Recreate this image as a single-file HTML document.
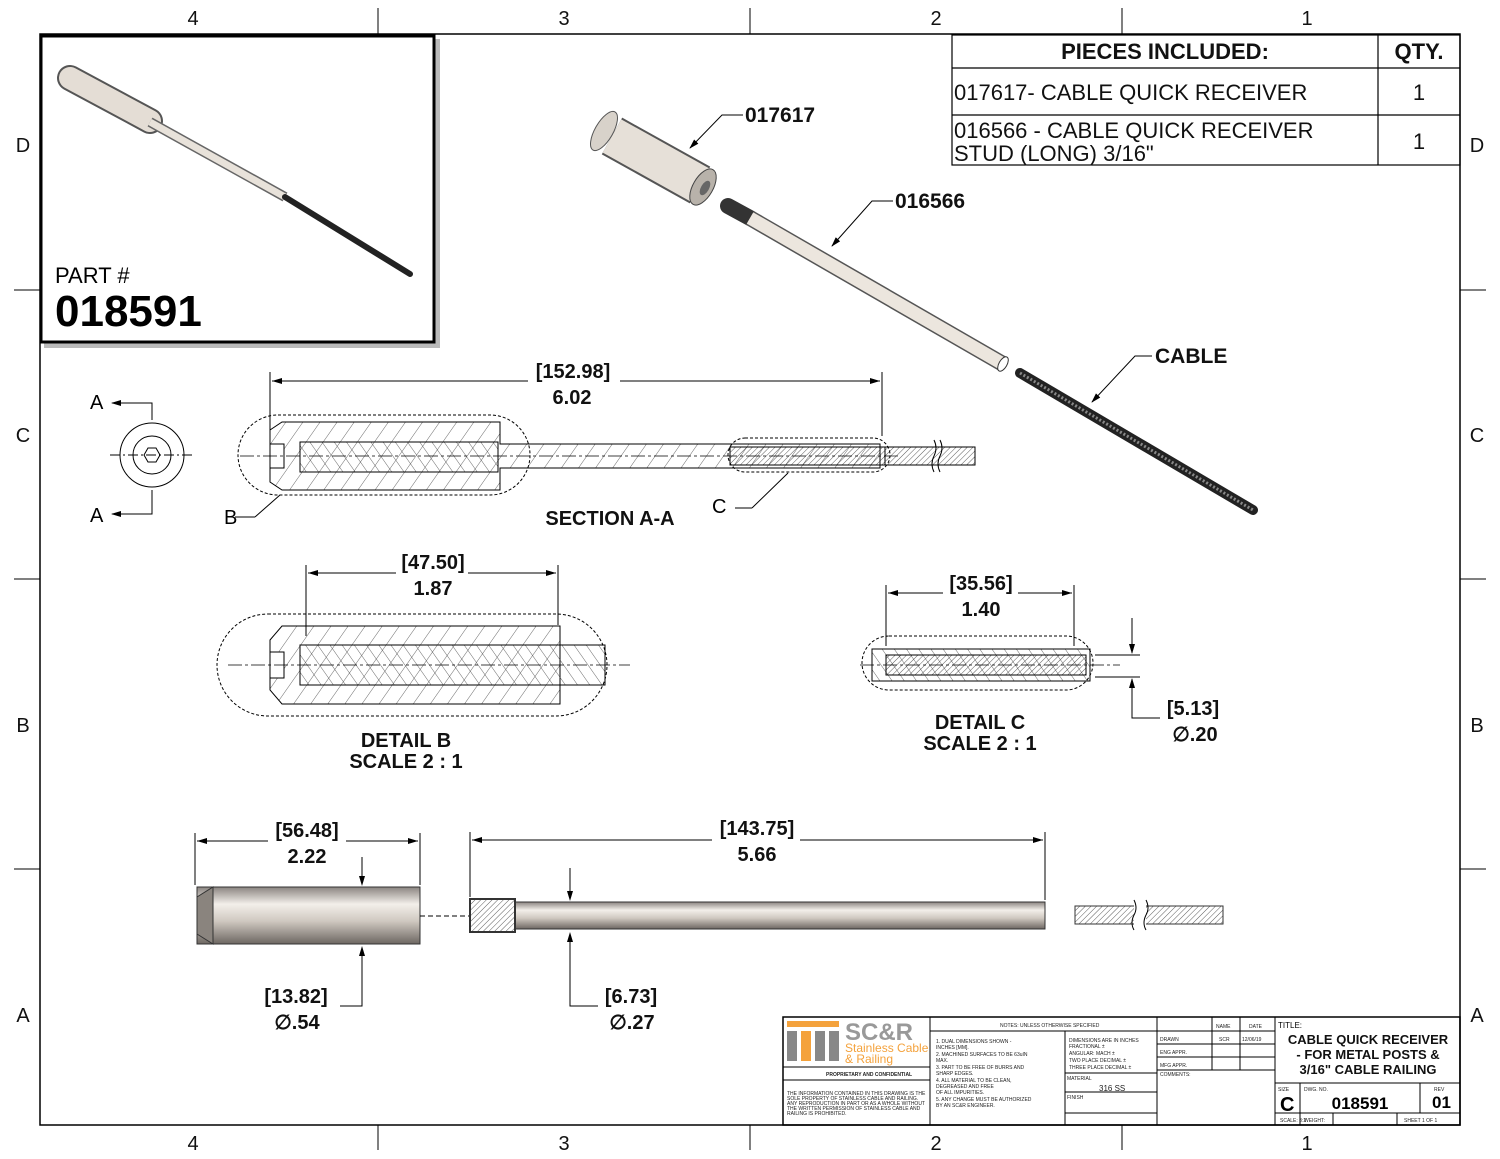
<!DOCTYPE html>
<html><head><meta charset="utf-8"><style>
html,body{margin:0;padding:0;background:#fff}
svg{display:block}
text{font-family:"Liberation Sans",sans-serif}
</style></head><body>
<svg width="1500" height="1159" viewBox="0 0 1500 1159" xmlns="http://www.w3.org/2000/svg">
<defs>
<pattern id="h1" width="14" height="14" patternUnits="userSpaceOnUse" patternTransform="rotate(35)"><line x1="0" y1="0" x2="0" y2="14" stroke="#444" stroke-width="0.8"/></pattern>
<pattern id="h2" width="4" height="4" patternUnits="userSpaceOnUse" patternTransform="rotate(45)"><line x1="0" y1="0" x2="0" y2="4" stroke="#333" stroke-width="0.8"/></pattern>
<pattern id="h3" width="10" height="10" patternUnits="userSpaceOnUse" patternTransform="rotate(-35)"><line x1="0" y1="0" x2="0" y2="10" stroke="#444" stroke-width="0.8"/></pattern>
<linearGradient id="gv" x1="0" y1="0" x2="0" y2="1"><stop offset="0" stop-color="#8a8480"/><stop offset="0.3" stop-color="#f3efea"/><stop offset="0.6" stop-color="#cfc8c0"/><stop offset="1" stop-color="#6d6762"/></linearGradient>
<marker id="ar" markerWidth="10" markerHeight="8" refX="9" refY="4" orient="auto" markerUnits="userSpaceOnUse"><path d="M0,1 L10,4 L0,7z" fill="#000"/></marker>
</defs>
<!-- frame -->
<rect x="40" y="34" width="1420" height="1091" fill="none" stroke="#000" stroke-width="1.5"/>
<g stroke="#000" stroke-width="1">
<line x1="378" y1="8" x2="378" y2="34"/><line x1="750" y1="8" x2="750" y2="34"/><line x1="1122" y1="8" x2="1122" y2="34"/>
<line x1="378" y1="1125" x2="378" y2="1150"/><line x1="750" y1="1125" x2="750" y2="1150"/><line x1="1122" y1="1125" x2="1122" y2="1150"/>
<line x1="14" y1="290" x2="40" y2="290"/><line x1="14" y1="579" x2="40" y2="579"/><line x1="14" y1="869" x2="40" y2="869"/>
<line x1="1460" y1="290" x2="1486" y2="290"/><line x1="1460" y1="579" x2="1486" y2="579"/><line x1="1460" y1="869" x2="1486" y2="869"/>
</g>
<g font-size="20" text-anchor="middle" fill="#111">
<text x="193" y="25">4</text><text x="564" y="25">3</text><text x="936" y="25">2</text><text x="1307" y="25">1</text>
<text x="193" y="1150">4</text><text x="564" y="1150">3</text><text x="936" y="1150">2</text><text x="1307" y="1150">1</text>
<text x="23" y="152">D</text><text x="23" y="442">C</text><text x="23" y="732">B</text><text x="23" y="1022">A</text>
<text x="1477" y="152">D</text><text x="1477" y="442">C</text><text x="1477" y="732">B</text><text x="1477" y="1022">A</text>
</g>
<!-- inset -->
<rect x="44" y="39" width="396" height="309" fill="#bbb"/>
<rect x="41" y="36" width="393" height="306" fill="#fff" stroke="#000" stroke-width="3"/>
<line x1="70" y1="78" x2="150" y2="121" stroke="#555" stroke-width="26" stroke-linecap="round"/>
<line x1="70" y1="78" x2="150" y2="121" stroke="#e4ddd5" stroke-width="22" stroke-linecap="round"/>
<line x1="150" y1="122" x2="285" y2="197" stroke="#666" stroke-width="10"/>
<line x1="150" y1="122" x2="285" y2="197" stroke="#e8e2da" stroke-width="7"/>
<line x1="285" y1="197" x2="410" y2="274" stroke="#222" stroke-width="6" stroke-linecap="round"/>
<text x="55" y="283" font-size="22">PART #</text>
<text x="55" y="326" font-size="44" font-weight="bold">018591</text>
<!-- pieces table -->
<g stroke="#000" stroke-width="1.2" fill="none">
<rect x="952" y="35" width="508" height="130"/>
<line x1="952" y1="68" x2="1460" y2="68"/><line x1="952" y1="115" x2="1460" y2="115"/>
<line x1="1378" y1="35" x2="1378" y2="165"/>
</g>
<g font-size="22" fill="#111">
<text x="1165" y="59" text-anchor="middle" font-weight="bold">PIECES INCLUDED:</text>
<text x="1419" y="59" text-anchor="middle" font-weight="bold">QTY.</text>
<text x="954" y="100">017617- CABLE QUICK RECEIVER</text>
<text x="1419" y="100" text-anchor="middle">1</text>
<text x="954" y="138">016566 - CABLE QUICK RECEIVER</text>
<text x="954" y="161">STUD (LONG) 3/16"</text>
<text x="1419" y="149" text-anchor="middle">1</text>
</g>
<!-- iso exploded -->
<line x1="612" y1="136" x2="700" y2="185" stroke="#555" stroke-width="42"/>
<line x1="612" y1="136" x2="700" y2="185" stroke="#e6e0d8" stroke-width="38"/>
<ellipse cx="604" cy="131" rx="9" ry="22" transform="rotate(30 604 131)" fill="#d8d2ca" stroke="#555"/>
<ellipse cx="703" cy="187" rx="10" ry="20" transform="rotate(30 703 187)" fill="#b8b2aa" stroke="#444"/>
<ellipse cx="705" cy="188" rx="4" ry="8" transform="rotate(30 705 188)" fill="#666"/>
<line x1="728" y1="206" x2="750" y2="218" stroke="#333" stroke-width="16" stroke-linecap="round"/>
<line x1="728" y1="206" x2="750" y2="218" stroke="url(#h2)" stroke-width="12"/>
<line x1="750" y1="218" x2="1003" y2="364" stroke="#555" stroke-width="16"/>
<line x1="750" y1="218" x2="1003" y2="364" stroke="#ece6de" stroke-width="13"/>
<ellipse cx="1003" cy="364" rx="4" ry="8" transform="rotate(30 1003 364)" fill="#fff" stroke="#333"/>
<line x1="1020" y1="373" x2="1253" y2="510" stroke="#222" stroke-width="10" stroke-linecap="round"/>
<line x1="1020" y1="373" x2="1253" y2="510" stroke="#888" stroke-width="3" stroke-dasharray="2 2"/>
<g stroke="#000" stroke-width="1" fill="none">
<polyline points="743,115 722,115 690,148" marker-end="url(#ar)"/>
<polyline points="893,201 872,201 832,246" marker-end="url(#ar)"/>
<polyline points="1152,356 1135,356 1092,402" marker-end="url(#ar)"/>
</g>
<g font-size="21" font-weight="bold" fill="#111">
<text x="745" y="122">017617</text><text x="895" y="208">016566</text><text x="1155" y="363">CABLE</text>
</g>
<!-- Section A-A side view -->
<g stroke="#000" stroke-width="1" fill="none">
<circle cx="152" cy="455" r="32"/><circle cx="152" cy="455" r="19"/>
<polygon points="160,455 156,462 148,462 144,455 148,448 156,448"/>
<line x1="110" y1="455" x2="192" y2="455" stroke-dasharray="10 3 2 3"/>
<polyline points="152,420 152,403 112,403" marker-end="url(#ar)"/>
<polyline points="152,490 152,514 112,514" marker-end="url(#ar)"/>
</g>
<text x="90" y="409" font-size="20">A</text><text x="90" y="522" font-size="20">A</text>
<!-- section body -->
<g stroke="#000" stroke-width="1">
<path d="M270,430 L282,422 L500,422 L500,444 L880,444 L880,468 L500,468 L500,490 L282,490 L270,482 Z" fill="url(#h1)"/>
<rect x="300" y="442" width="198" height="30" fill="url(#h3)"/>
<rect x="730" y="447" width="155" height="18" fill="url(#h2)"/>
<rect x="885" y="447" width="90" height="18" fill="url(#h2)"/>
<rect x="270" y="444" width="14" height="24" fill="#fff"/>
</g>
<line x1="240" y1="456" x2="900" y2="456" stroke="#000" stroke-width="0.7" stroke-dasharray="14 3 3 3"/>
<rect x="238" y="415" width="292" height="80" rx="40" fill="none" stroke="#000" stroke-dasharray="3 2"/>
<rect x="728" y="438" width="162" height="34" rx="17" fill="none" stroke="#000" stroke-dasharray="3 2"/>
<g stroke="#000" stroke-width="1" fill="none">
<path d="M934,440 q4,8 0,16 q-4,8 0,16 M940,440 q4,8 0,16 q-4,8 0,16" stroke="#000"/>
<line x1="270" y1="440" x2="270" y2="372"/><line x1="882" y1="436" x2="882" y2="372"/>
<line x1="272" y1="381" x2="528" y2="381"/><line x1="620" y1="381" x2="880" y2="381"/>
<polyline points="255,517 235,517" /><line x1="255" y1="517" x2="280" y2="495"/>
<line x1="735" y1="508" x2="752" y2="508"/><line x1="752" y1="508" x2="788" y2="473"/>
</g>
<path d="M272,381 l10,-3 v6z M880,381 l-10,-3 v6z" fill="#000"/>
<g font-size="20" font-weight="bold" fill="#111" text-anchor="middle">
<text x="573" y="378">[152.98]</text><text x="572" y="404">6.02</text>
<text x="610" y="525">SECTION A-A</text>
</g>
<text x="224" y="524" font-size="20">B</text><text x="712" y="513" font-size="20">C</text>
<!-- Detail B -->
<g stroke="#000" stroke-width="1">
<path d="M270,640 L282,626 L560,626 L560,704 L282,704 L270,690 Z" fill="url(#h1)"/>
<rect x="300" y="645" width="305" height="40" fill="url(#h3)"/>
<rect x="270" y="652" width="14" height="26" fill="#fff"/>
</g>
<line x1="228" y1="665" x2="630" y2="665" stroke="#000" stroke-width="0.7" stroke-dasharray="14 3 3 3"/>
<rect x="217" y="614" width="390" height="102" rx="51" fill="none" stroke="#000" stroke-dasharray="3 2"/>
<g stroke="#000" fill="none"><line x1="306" y1="636" x2="306" y2="565"/><line x1="558" y1="625" x2="558" y2="565"/>
<line x1="308" y1="573" x2="396" y2="573"/><line x1="468" y1="573" x2="556" y2="573"/></g>
<path d="M308,573 l10,-3 v6z M556,573 l-10,-3 v6z" fill="#000"/>
<g font-size="20" font-weight="bold" fill="#111" text-anchor="middle">
<text x="433" y="569">[47.50]</text><text x="433" y="595">1.87</text>
<text x="406" y="747">DETAIL B</text><text x="406" y="768">SCALE 2 : 1</text>
</g>
<!-- Detail C -->
<g stroke="#000" stroke-width="1">
<rect x="872" y="649" width="218" height="32" fill="url(#h3)"/>
<rect x="886" y="655" width="200" height="20" fill="url(#h2)"/>
</g>
<line x1="860" y1="665" x2="1120" y2="665" stroke="#000" stroke-width="0.7" stroke-dasharray="14 3 3 3"/>
<rect x="862" y="636" width="231" height="54" rx="27" fill="none" stroke="#000" stroke-dasharray="3 2"/>
<g stroke="#000" fill="none"><line x1="886" y1="646" x2="886" y2="585"/><line x1="1074" y1="646" x2="1074" y2="585"/>
<line x1="888" y1="593" x2="943" y2="593"/><line x1="1018" y1="593" x2="1072" y2="593"/>
<line x1="1095" y1="655" x2="1140" y2="655"/><line x1="1095" y1="677" x2="1140" y2="677"/>
<line x1="1132" y1="618" x2="1132" y2="653"/><polyline points="1132,679 1132,718 1160,718"/></g>
<path d="M888,593 l10,-3 v6z M1072,593 l-10,-3 v6z M1132,654 l-3,-10 h6z M1132,678 l-3,10 h6z" fill="#000"/>
<g font-size="20" font-weight="bold" fill="#111" text-anchor="middle">
<text x="981" y="590">[35.56]</text><text x="981" y="616">1.40</text>
<text x="980" y="729">DETAIL C</text><text x="980" y="750">SCALE 2 : 1</text>
<text x="1193" y="715">[5.13]</text><text x="1195" y="741">∅.20</text>
</g>
<!-- bottom views -->
<rect x="197" y="887" width="223" height="57" fill="url(#gv)" stroke="#333"/>
<path d="M213,887 L197,897 L197,934 L213,944 Z" fill="#8a847e" stroke="#333"/>
<line x1="420" y1="916" x2="470" y2="916" stroke="#000" stroke-dasharray="5 3"/>
<rect x="515" y="902" width="530" height="27" fill="url(#gv)" stroke="#333"/>
<rect x="470" y="899" width="45" height="33" fill="url(#h2)" stroke="#333" stroke-width="2"/>
<rect x="1075" y="906" width="148" height="18" fill="url(#h2)" stroke="#333"/>
<rect x="1134" y="900" width="12" height="30" fill="#fff"/>
<path d="M1134,900 q4,8 0,15 q-4,8 0,15 M1146,900 q4,8 0,15 q-4,8 0,15" stroke="#000" fill="none"/>
<g stroke="#000" fill="none">
<line x1="195" y1="885" x2="195" y2="833"/><line x1="420" y1="885" x2="420" y2="833"/>
<line x1="197" y1="841" x2="268" y2="841"/><line x1="346" y1="841" x2="418" y2="841"/>
<line x1="362" y1="857" x2="362" y2="883"/><polyline points="362,950 362,1006 340,1006"/>
<line x1="470" y1="897" x2="470" y2="832"/><line x1="1045" y1="900" x2="1045" y2="832"/>
<line x1="472" y1="840" x2="712" y2="840"/><line x1="800" y1="840" x2="1043" y2="840"/>
<line x1="570" y1="868" x2="570" y2="898"/><polyline points="570,935 570,1006 598,1006"/>
</g>
<path d="M197,841 l10,-3 v6z M418,841 l-10,-3 v6z M472,840 l10,-3 v6z M1043,840 l-10,-3 v6z M362,886 l-3,-10 h6z M362,946 l-3,10 h6z M570,901 l-3,-10 h6z M570,932 l-3,10 h6z" fill="#000"/>
<g font-size="20" font-weight="bold" fill="#111" text-anchor="middle">
<text x="307" y="837">[56.48]</text><text x="307" y="863">2.22</text>
<text x="757" y="835">[143.75]</text><text x="757" y="861">5.66</text>
<text x="296" y="1003">[13.82]</text><text x="297" y="1029">∅.54</text>
<text x="631" y="1003">[6.73]</text><text x="632" y="1029">∅.27</text>
</g>
<!-- title block -->
<g stroke="#000" stroke-width="1" fill="none">
<rect x="783" y="1017" width="677" height="108" stroke-width="1.5"/>
<line x1="930" y1="1017" x2="930" y2="1125"/>
<line x1="783" y1="1067" x2="930" y2="1067"/><line x1="783" y1="1080" x2="930" y2="1080"/>
<line x1="930" y1="1031" x2="1157" y2="1031"/>
<line x1="1065" y1="1031" x2="1065" y2="1125"/>
<line x1="1065" y1="1073" x2="1157" y2="1073"/><line x1="1065" y1="1092" x2="1157" y2="1092"/><line x1="1065" y1="1113" x2="1157" y2="1113"/>
<line x1="1157" y1="1017" x2="1157" y2="1125"/>
<line x1="1157" y1="1031" x2="1275" y2="1031"/><line x1="1157" y1="1044" x2="1275" y2="1044"/><line x1="1157" y1="1057" x2="1275" y2="1057"/><line x1="1157" y1="1070" x2="1275" y2="1070"/>
<line x1="1212" y1="1017" x2="1212" y2="1070"/><line x1="1240" y1="1017" x2="1240" y2="1070"/>
<line x1="1275" y1="1017" x2="1275" y2="1125"/>
<line x1="1275" y1="1083" x2="1460" y2="1083"/><line x1="1275" y1="1113" x2="1460" y2="1113"/>
<line x1="1300" y1="1083" x2="1300" y2="1125"/><line x1="1420" y1="1083" x2="1420" y2="1113"/><line x1="1333" y1="1113" x2="1333" y2="1125"/><line x1="1397" y1="1113" x2="1397" y2="1125"/>
</g>
<g fill="#f4a23c"><rect x="787" y="1021" width="52" height="6"/><rect x="787" y="1031" width="10" height="30" fill="#888"/><rect x="801" y="1031" width="10" height="30" fill="#f4a23c"/><rect x="815" y="1031" width="10" height="30" fill="#888"/><rect x="829" y="1031" width="10" height="30" fill="#888"/></g>
<text x="845" y="1040" font-size="24" font-weight="bold" fill="#999">SC&amp;R</text>
<text x="845" y="1052" font-size="12" fill="#f4a23c">Stainless Cable</text>
<text x="845" y="1063" font-size="12" fill="#f4a23c">&amp; Railing</text>
<g font-size="5" fill="#222">
<text x="826" y="1076" font-weight="bold">PROPRIETARY AND CONFIDENTIAL</text>
<text x="787" y="1095">THE INFORMATION CONTAINED IN THIS DRAWING IS THE</text>
<text x="787" y="1100">SOLE PROPERTY OF STAINLESS CABLE AND RAILING.</text>
<text x="787" y="1105">ANY REPRODUCTION IN PART OR AS A WHOLE WITHOUT</text>
<text x="787" y="1110">THE WRITTEN PERMISSION OF STAINLESS CABLE AND</text>
<text x="787" y="1115">RAILING IS PROHIBITED.</text>
<text x="1000" y="1027">NOTES:   UNLESS OTHERWISE SPECIFIED</text>
<text x="936" y="1043">1. DUAL DIMENSIONS SHOWN -</text>
<text x="936" y="1049">INCHES [MM].</text>
<text x="936" y="1056">2. MACHINED SURFACES TO BE 63uIN</text>
<text x="936" y="1062">MAX.</text>
<text x="936" y="1069">3. PART TO BE FREE OF BURRS AND</text>
<text x="936" y="1075">SHARP EDGES.</text>
<text x="936" y="1082">4. ALL MATERIAL TO BE CLEAN,</text>
<text x="936" y="1088">DEGREASED AND FREE</text>
<text x="936" y="1094">OF ALL IMPURITIES.</text>
<text x="936" y="1101">5. ANY CHANGE MUST BE AUTHORIZED</text>
<text x="936" y="1107">BY AN SC&amp;R ENGINEER.</text>
<text x="1069" y="1042">DIMENSIONS ARE IN INCHES</text>
<text x="1069" y="1048">FRACTIONAL          ±</text>
<text x="1069" y="1055">ANGULAR: MACH       ±</text>
<text x="1069" y="1062">TWO PLACE DECIMAL   ±</text>
<text x="1069" y="1069">THREE PLACE DECIMAL ±</text>
<text x="1067" y="1080">MATERIAL</text>
<text x="1067" y="1099">FINISH</text>
<text x="1160" y="1041">DRAWN</text><text x="1160" y="1054">ENG APPR.</text><text x="1160" y="1067">MFG APPR.</text><text x="1160" y="1076">COMMENTS:</text>
<text x="1216" y="1028">NAME</text><text x="1249" y="1028">DATE</text>
<text x="1219" y="1041">SCR</text><text x="1242" y="1041">12/06/19</text>
<text x="1278" y="1091">SIZE</text><text x="1304" y="1091">DWG.  NO.</text><text x="1434" y="1091">REV</text>
<text x="1280" y="1122">SCALE: 3:2</text><text x="1304" y="1122">WEIGHT:</text><text x="1404" y="1122">SHEET 1 OF 1</text>
</g>
<text x="1099" y="1091" font-size="8" fill="#222">316 SS</text>
<text x="1278" y="1028" font-size="8">TITLE:</text>
<g font-size="13" font-weight="bold" text-anchor="middle" fill="#111">
<text x="1368" y="1044">CABLE QUICK RECEIVER</text><text x="1368" y="1059">- FOR METAL POSTS &amp;</text><text x="1368" y="1074">3/16" CABLE RAILING</text>
</g>
<text x="1280" y="1111" font-size="20" font-weight="bold">C</text>
<text x="1360" y="1109" font-size="17" font-weight="bold" text-anchor="middle">018591</text>
<text x="1432" y="1108" font-size="17" font-weight="bold">01</text>
</svg>
</body></html>
